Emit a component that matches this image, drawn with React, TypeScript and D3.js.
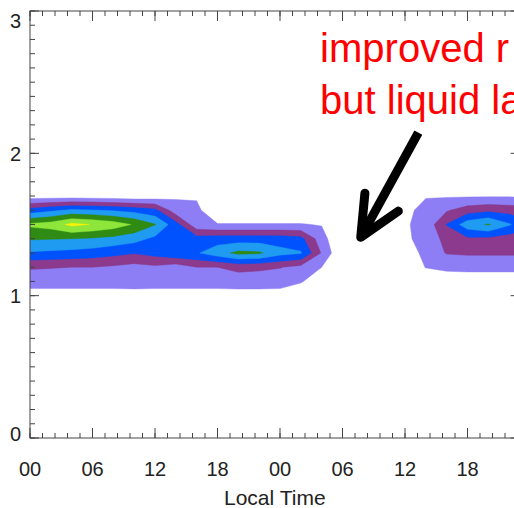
import React from 'react';
import * as d3 from 'd3';

const W = 514;
const H = 508;

// model columns (local time, h) and model levels (km)
const hours = [-2, 0, 2, 4, 6, 8, 10, 12, 14, 16, 18, 20, 22, 24, 26, 28, 30, 32, 34, 36, 38, 40, 42, 44, 46, 48];
const heights = [0.9, 1.0, 1.1, 1.2, 1.3, 1.4, 1.5, 1.6, 1.7, 1.8];

// one vertical profile per column, bottom -> top (contour level units)
const profiles = [
  [0, 0.5, 1.5, 2.1, 3.9, 5.1, 6.2, 3.4, 0.5, 0],
  [0, 0.5, 1.5, 2.1, 3.9, 5.1, 6.2, 3.4, 0.5, 0],
  [0, 0.5, 1.5, 2.05, 3.8, 5.05, 6.45, 3.8, 0.5, 0],
  [0, 0.5, 1.5, 2.0, 3.7, 5.0, 7.25, 4.2, 0.5, 0],
  [0, 0.5, 1.5, 2.0, 3.55, 4.9, 6.95, 4.1, 0.45, 0],
  [0, 0.5, 1.5, 1.85, 3.3, 4.7, 6.55, 3.9, 0.4, 0],
  [0, 0.55, 1.5, 1.65, 3.06, 4.38, 5.9, 3.65, 0.3, 0],
  [0, 0.5, 1.5, 1.83, 3.35, 3.77, 5.05, 3.27, 0.4, 0],
  [0, 0.6, 1.4, 1.5, 3.8, 3.9, 3.4, 1.4, 0.87, 0],
  [0, 0.6, 1.4, 2.0, 3.9, 3.4, 1.3, 1.2, 0.9, 0],
  [0, 0.6, 1.4, 2.0, 4.6, 3.5, 1.05, 0.3, 0, 0],
  [0, 0.6, 1.47, 2.3, 5.25, 3.5, 1.05, 0.3, 0, 0],
  [0, 0.6, 1.45, 2.2, 5.15, 3.5, 1.05, 0.3, 0, 0],
  [0, 0.6, 1.4, 2.05, 4.35, 3.5, 1.05, 0.3, 0, 0],
  [0, 0.2, 1.1, 1.7, 4.1, 3.3, 1.05, 0.3, 0, 0],
  [0, 0, 0.3, 1.0, 1.9, 1.4, 0.95, 0.2, 0, 0],
  [0, 0, 0, 0, 0, 0, 0, 0, 0, 0],
  [0, 0, 0, 0, 0, 0, 0, 0, 0, 0],
  [0, 0, 0, 0, 0, 0, 0, 0, 0, 0],
  [0, 0, 0, 0, 0, 0.8, 0.9, 0.6, 0, 0],
  [0, 0, 0, 1.05, 1.5, 1.4, 1.3, 1.5, 0.9, 0],
  [0, 0, 0, 1.4, 2.05, 2.3, 3.05, 1.9, 0.9, 0],
  [0, 0, 0, 1.5, 2.1, 2.8, 4.6, 2.5, 0.9, 0],
  [0, 0, 0, 1.5, 2.1, 2.76, 5.1, 2.76, 0.9, 0],
  [0, 0, 0, 1.5, 2.1, 2.5, 4.1, 2.6, 0.9, 0],
  [0, 0, 0, 1.5, 2.1, 2.5, 3.2, 2.4, 0.9, 0],
];

const levels = [1, 2, 3, 4, 5, 6, 7];
const levelColors = ['#8d7ef5', '#8b3a8e', '#0052ff', '#1f9bf1', '#2f8b14', '#8ee63a', '#fff200'];

const xTicks = [0, 6, 12, 18, 24, 30, 36, 42];
const yTicks = [0, 1, 2, 3];

// annotation (data units: hours, km)
const noteLines = ['improved r', 'but liquid la'];
const arrowShaft = [[37.28, 2.146], [31.75, 1.41]];
const arrowBarbs = [[[32.15, 1.72], [31.75, 1.41], [35.36, 1.594]]];

const font = '"Liberation Sans", Arial, Helvetica, sans-serif';
const axisColor = '#444';

export default function App() {
  const x = d3.scaleLinear().domain([0, 47]).range([30, 519.6]);
  const y = d3.scaleLinear().domain([0, 3]).range([438, 11]);

  const nx = hours.length;
  const ny = heights.length;
  const values: number[] = [];
  for (let j = 0; j < ny; j++) for (let i = 0; i < nx; i++) values.push(profiles[i][j]);

  // grid index space -> data space (value i sits at i + 0.5 in d3.contours)
  const gx = d3.scaleLinear().domain([0.5, nx - 0.5]).range([hours[0], hours[nx - 1]]);
  const gy = d3.scaleLinear().domain([0.5, ny - 0.5]).range([heights[0], heights[ny - 1]]);
  const proj = d3.geoTransform({
    point(px: number, py: number) {
      (this as any).stream.point(x(gx(px)), y(gy(py)));
    },
  });
  const path = d3.geoPath(proj as any);
  const contours = d3.contours().size([nx, ny]).thresholds(levels)(values);

  const [x0, x1] = x.range();
  const [yb, yt] = y.range();

  const xMinor = d3.range(0, 47.01, 1.2);
  const yMinor = d3.range(0, 3.001, 0.1);
  const line = d3.line();

  return (
    <svg width={W} height={H} style={{ position: 'absolute', left: 0, top: 0, background: '#fff' }}>
      <defs>
        <clipPath id="plot">
          <rect x={x0} y={yt} width={x1 - x0} height={yb - yt} />
        </clipPath>
      </defs>
      <rect width={W} height={H} fill="#fff" />
      <g clipPath="url(#plot)">
        {contours.map((c, i) => (
          <path key={i} d={path(c as any) || ''} fill={levelColors[i]} stroke={levelColors[i]} strokeWidth={0.4} />
        ))}
      </g>

      {/* frame */}
      <g stroke={axisColor} strokeWidth={1} fill="none">
        <rect x={x0} y={yt} width={x1 - x0} height={yb - yt} />
        {xMinor.map((h, i) => (
          <g key={'xm' + i}>
            <line x1={x(h)} x2={x(h)} y1={yb} y2={yb - 5} />
            <line x1={x(h)} x2={x(h)} y1={yt} y2={yt + 5} />
          </g>
        ))}
        {xTicks.map((h) => (
          <g key={'xM' + h}>
            <line x1={x(h)} x2={x(h)} y1={yb} y2={yb - 10} />
            <line x1={x(h)} x2={x(h)} y1={yt} y2={yt + 10} />
          </g>
        ))}
        {yMinor.map((v, i) => (
          <g key={'ym' + i}>
            <line x1={x0} x2={x0 + 5} y1={y(v)} y2={y(v)} />
            <line x1={x1} x2={x1 - 5} y1={y(v)} y2={y(v)} />
          </g>
        ))}
        {yTicks.map((v) => (
          <g key={'yM' + v}>
            <line x1={x0} x2={x0 + 9} y1={y(v)} y2={y(v)} />
            <line x1={x1} x2={x1 - 9} y1={y(v)} y2={y(v)} />
          </g>
        ))}
      </g>

      {/* tick labels */}
      <g fontFamily={font} fontSize={20} fill="#222">
        {xTicks.map((h) => (
          <text key={'xl' + h} x={x(h)} y={476} textAnchor="middle">
            {String(h % 24).padStart(2, '0')}
          </text>
        ))}
        {yTicks.map((v) => (
          <text key={'yl' + v} x={21} y={Math.min(Math.max(y(v) + 7.5, yt + 17), yb + 2.5)} textAnchor="end">
            {v}
          </text>
        ))}
        <text x={(x0 + x1) / 2} y={505} textAnchor="middle" fontSize={21}>
          Local Time
        </text>
      </g>

      {/* annotation */}
      <g fontFamily={font} fontSize={40} fill="#ff0000">
        {noteLines.map((t, i) => (
          <text key={t} x={x(27.85)} y={y(2.64) + i * 52}>
            {t}
          </text>
        ))}
      </g>
      <path
        d={line(arrowShaft.map(([h, v]) => [x(h), y(v)]) as any) || ''}
        stroke="#000"
        strokeWidth={9}
        fill="none"
      />
      {arrowBarbs.map((b, i) => (
        <path
          key={i}
          d={line(b.map(([h, v]) => [x(h), y(v)]) as any) || ''}
          stroke="#000"
          strokeWidth={9}
          fill="none"
          strokeLinecap="round"
          strokeLinejoin="round"
        />
      ))}
    </svg>
  );
}
